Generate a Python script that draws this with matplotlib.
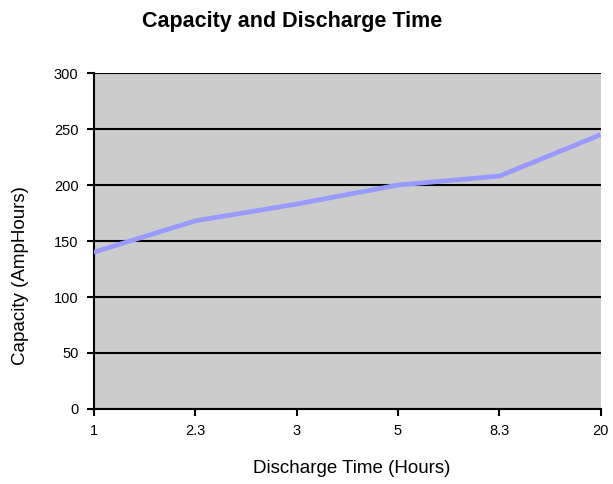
import matplotlib.pyplot as plt
import numpy as np

plt.rcParams['font.family'] = ['Liberation Sans', 'DejaVu Sans']

hours = ['1', '2.3', '3', '5', '8.3', '20']
capacity = [140, 168, 183, 200, 208, 245]

fig = plt.figure(figsize=(6.13, 4.84), dpi=100)
ax = fig.add_axes([0.153, 0.155, 0.827, 0.694])
ax.set_facecolor('#CCCCCC')

x = np.arange(len(hours))
ax.plot(x, capacity, color='#9999FF', lw=3.4, solid_capstyle='butt', zorder=3)

ax.set_xlim(0, len(hours) - 1)
ax.set_ylim(0, 300)
ax.set_xticks(x)
ax.set_xticklabels(hours)
ax.set_yticks(range(0, 301, 50))
ax.yaxis.grid(True, color='black', lw=1.5)
ax.set_axisbelow(True)

for s in ['top', 'right']:
    ax.spines[s].set_visible(False)
for s in ['left', 'bottom']:
    ax.spines[s].set_linewidth(1.5)
ax.tick_params(direction='out', length=5, width=1.5, labelsize=10.5, pad=6)

fig.text(0.574, 0.033, 'Discharge Time (Hours)', fontsize=13.5,
         ha='center', va='center')
fig.text(0.033, 0.43, 'Capacity (AmpHours)', fontsize=13.5, rotation=90,
         ha='center', va='center')
fig.text(0.477, 0.955, 'Capacity and Discharge Time', fontsize=15.5,
         fontweight='bold', ha='center', va='center')

fig.savefig('out.png', dpi=100, facecolor='white')
